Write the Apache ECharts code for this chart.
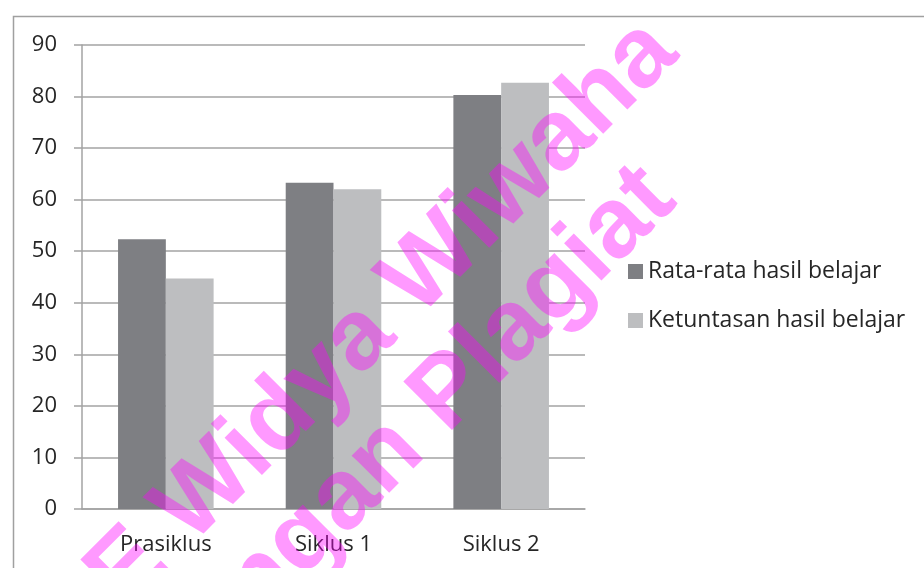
<!DOCTYPE html>
<html>
<head>
<meta charset="utf-8">
<script src="https://cdn.jsdelivr.net/npm/echarts@6/dist/echarts.min.js"></script>
<style>
  html, body { margin: 0; padding: 0; background: #fff; }
  #chart { width: 924px; height: 568px; }
</style>
</head>
<body>
<div id="chart"></div>
<script>
// data
var categories = ["Prasiklus", "Siklus 1", "Siklus 2"];
var rataRata = [52.3, 63.3, 80.3];
var ketuntasan = [44.7, 62.0, 82.7];
var seriesNames = ["Rata-rata hasil belajar", "Ketuntasan hasil belajar"];
var watermark = ["STIE Widya Wiwaha", "Jangan Plagiat"];

var chart = echarts.init(document.getElementById("chart"));
var font = "'Open Sans', sans-serif";
var lineColor = "#a3a3a3";
var wmFont = "bold 100px 'Liberation Sans', Arial, sans-serif";
var wmFill = "rgba(255,0,255,0.4)";

chart.setOption({
  animation: false,
  textStyle: { fontFamily: font },
  grid: { left: 82, right: 339, top: 45, bottom: 59 },
  legend: {
    data: seriesNames,
    orient: "vertical",
    left: 628,
    top: 260,
    padding: 0,
    itemWidth: 15,
    itemHeight: 15,
    itemGap: 26,
    icon: "rect",
    textStyle: { fontSize: 23, color: "#262626", fontFamily: font }
  },
  xAxis: {
    type: "category",
    data: categories,
    axisLine: { lineStyle: { color: lineColor, width: 1.5 } },
    axisTick: { length: 8, lineStyle: { color: lineColor, width: 1.5 } },
    axisLabel: { fontSize: 22, color: "#262626", margin: 25 }
  },
  yAxis: {
    type: "value",
    min: 0,
    max: 90,
    interval: 10,
    axisLine: { show: true, lineStyle: { color: lineColor, width: 1.5 } },
    axisTick: { show: true, length: 8, lineStyle: { color: lineColor, width: 1.5 } },
    splitLine: { lineStyle: { color: lineColor, width: 1.5 } },
    axisLabel: { fontSize: 22, color: "#262626", margin: 25 }
  },
  series: [
    {
      name: seriesNames[0],
      type: "bar",
      data: rataRata,
      barGap: "0%",
      barCategoryGap: "43%",
      itemStyle: { color: "#7e7f83" }
    },
    {
      name: seriesNames[1],
      type: "bar",
      data: ketuntasan,
      itemStyle: { color: "#bdbec0" }
    }
  ],
  graphic: [
    {
      // outer frame of the chart area
      type: "rect",
      silent: true,
      shape: { x: 13.5, y: 16.5, width: 940, height: 600 },
      style: { fill: null, stroke: "#a0a0a0", lineWidth: 1.5 },
      z: 50
    },
    {
      type: "text",
      silent: true,
      x: 328, y: 370,
      rotation: Math.PI / 4,
      style: { text: watermark[0], font: wmFont, fill: wmFill,
               textAlign: "center", textVerticalAlign: "middle" },
      z: 100
    },
    {
      type: "text",
      silent: true,
      x: 410, y: 433,
      rotation: Math.PI / 4,
      style: { text: watermark[1], font: wmFont, fill: wmFill,
               textAlign: "center", textVerticalAlign: "middle" },
      z: 100
    }
  ]
});
</script>
</body>
</html>
